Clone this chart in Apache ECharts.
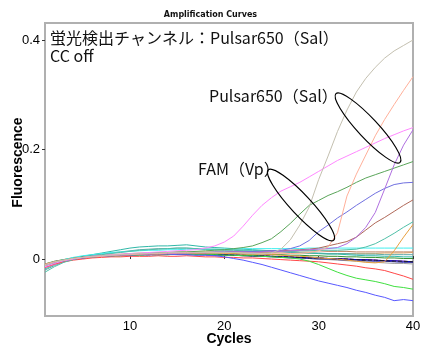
<!DOCTYPE html>
<html>
<head>
<meta charset="utf-8">
<script src="https://cdn.jsdelivr.net/npm/echarts@6/dist/echarts.min.js"></script>
<style>html,body{margin:0;padding:0;background:#fff}#c{width:421px;height:349px}</style>
</head>
<body>
<div id="c"></div>
<script>
const cycles = [1,2,3,4,5,6,7,8,9,10,11,12,13,14,15,16,17,18,19,20,21,22,23,24,25,26,27,28,29,30,31,32,33,34,35,36,37,38,39,40];
const xTicks = [10,20,30,40];
const yTicks = [0,0.2,0.4];

const salGray = [-0.012,-0.006,-0.002,0.001,0.003,0.005,0.006,0.007,0.008,0.009,0.010,0.010,0.011,0.012,0.012,0.011,0.012,0.012,0.011,0.012,0.012,0.011,0.010,0.009,0.011,0.018,0.035,0.062,0.095,0.145,0.188,0.233,0.272,0.305,0.330,0.350,0.367,0.380,0.390,0.400];
const salSalmon = [-0.010,-0.005,-0.002,0.001,0.003,0.004,0.005,0.007,0.008,0.008,0.009,0.010,0.010,0.011,0.011,0.012,0.011,0.012,0.012,0.011,0.012,0.011,0.011,0.010,0.010,0.011,0.010,0.011,0.012,0.015,0.022,0.048,0.115,0.155,0.190,0.225,0.255,0.282,0.308,0.333];
const famPink = [-0.014,-0.008,-0.003,0.000,0.003,0.005,0.006,0.008,0.009,0.010,0.011,0.012,0.013,0.014,0.015,0.016,0.017,0.020,0.024,0.031,0.042,0.060,0.080,0.098,0.112,0.124,0.132,0.140,0.150,0.160,0.170,0.180,0.188,0.196,0.204,0.212,0.220,0.227,0.234,0.240];
const famGreen = [-0.011,-0.006,-0.002,0.001,0.003,0.004,0.006,0.007,0.008,0.009,0.010,0.011,0.011,0.012,0.013,0.013,0.014,0.015,0.016,0.017,0.019,0.021,0.024,0.030,0.037,0.050,0.065,0.082,0.098,0.107,0.116,0.123,0.131,0.140,0.148,0.154,0.160,0.166,0.172,0.178];
const salPurple = [-0.012,-0.006,-0.003,0.000,0.002,0.004,0.005,0.006,0.007,0.008,0.009,0.009,0.010,0.010,0.011,0.011,0.012,0.011,0.012,0.012,0.013,0.013,0.012,0.013,0.014,0.014,0.015,0.016,0.017,0.018,0.019,0.021,0.028,0.040,0.058,0.085,0.128,0.172,0.208,0.236];
const famSlate = [-0.010,-0.005,-0.002,0.001,0.003,0.005,0.006,0.007,0.008,0.009,0.009,0.010,0.011,0.011,0.011,0.012,0.012,0.012,0.013,0.013,0.013,0.013,0.014,0.014,0.015,0.016,0.019,0.024,0.034,0.050,0.062,0.075,0.086,0.098,0.109,0.120,0.129,0.136,0.139,0.140];
const brown = [-0.011,-0.006,-0.003,0.000,0.002,0.004,0.005,0.006,0.007,0.008,0.009,0.009,0.010,0.010,0.011,0.011,0.011,0.012,0.012,0.012,0.013,0.013,0.013,0.014,0.015,0.015,0.016,0.017,0.018,0.020,0.024,0.028,0.032,0.040,0.053,0.066,0.076,0.087,0.098,0.108];
const tealRise = [-0.024,-0.014,-0.006,-0.001,0.003,0.006,0.008,0.010,0.012,0.014,0.016,0.017,0.018,0.019,0.020,0.020,0.019,0.018,0.018,0.017,0.017,0.016,0.016,0.015,0.015,0.014,0.014,0.015,0.015,0.016,0.016,0.016,0.017,0.018,0.022,0.028,0.037,0.047,0.058,0.068];
const tealHump = [-0.018,-0.010,-0.004,0.001,0.005,0.008,0.011,0.014,0.017,0.020,0.022,0.023,0.024,0.024,0.025,0.026,0.024,0.022,0.021,0.020,0.019,0.018,0.017,0.016,0.015,0.014,0.013,0.012,0.011,0.010,0.009,0.009,0.008,0.007,0.006,0.006,0.005,0.005,0.004,0.004];
const orange = [-0.009,-0.005,-0.002,0.001,0.003,0.004,0.005,0.006,0.007,0.008,0.008,0.009,0.009,0.010,0.010,0.010,0.011,0.010,0.011,0.010,0.010,0.009,0.009,0.008,0.008,0.007,0.006,0.005,0.004,0.002,0.001,0.000,-0.002,-0.004,-0.006,-0.007,-0.005,0.015,0.040,0.063];
const cyan = [-0.012,-0.006,-0.001,0.003,0.006,0.008,0.010,0.012,0.013,0.014,0.015,0.016,0.016,0.017,0.017,0.018,0.018,0.018,0.018,0.018,0.018,0.019,0.019,0.019,0.019,0.019,0.019,0.019,0.020,0.020,0.020,0.020,0.020,0.020,0.020,0.020,0.020,0.020,0.020,0.020];
const blue = [-0.013,-0.007,-0.003,0.000,0.002,0.004,0.005,0.006,0.007,0.007,0.008,0.008,0.008,0.009,0.008,0.008,0.007,0.007,0.006,0.004,0.001,-0.002,-0.006,-0.010,-0.015,-0.020,-0.025,-0.030,-0.035,-0.040,-0.044,-0.048,-0.052,-0.057,-0.061,-0.066,-0.070,-0.076,-0.074,-0.076];
const lime = [-0.011,-0.006,-0.003,0.000,0.002,0.004,0.005,0.006,0.006,0.007,0.007,0.008,0.008,0.008,0.009,0.009,0.008,0.008,0.008,0.007,0.007,0.006,0.006,0.005,0.004,0.003,0.002,0.000,-0.004,-0.010,-0.017,-0.024,-0.030,-0.035,-0.038,-0.041,-0.045,-0.050,-0.052,-0.055];
const red = [-0.015,-0.009,-0.005,-0.002,0.000,0.002,0.003,0.004,0.004,0.005,0.005,0.005,0.006,0.005,0.005,0.006,0.005,0.004,0.004,0.003,0.003,0.002,0.002,0.001,0.000,-0.001,-0.002,-0.003,-0.004,-0.005,-0.007,-0.009,-0.011,-0.013,-0.016,-0.018,-0.021,-0.026,-0.031,-0.037];
const blackDash = [-0.011,-0.006,-0.002,0.001,0.003,0.004,0.005,0.006,0.007,0.007,0.008,0.008,0.008,0.009,0.009,0.009,0.008,0.008,0.008,0.008,0.007,0.007,0.006,0.006,0.005,0.004,0.004,0.003,0.002,0.002,0.001,0.000,0.000,-0.001,-0.002,-0.002,-0.003,-0.004,-0.004,-0.005];
const navy = [-0.012,-0.007,-0.003,0.000,0.002,0.004,0.005,0.006,0.006,0.007,0.008,0.008,0.008,0.008,0.009,0.008,0.008,0.008,0.007,0.007,0.007,0.006,0.005,0.005,0.004,0.003,0.002,0.002,0.001,0.000,0.000,-0.001,-0.002,-0.002,-0.003,-0.004,-0.004,-0.005,-0.006,-0.006];
const grayBase = [-0.010,-0.005,-0.002,0.001,0.003,0.004,0.005,0.006,0.007,0.008,0.008,0.009,0.009,0.009,0.010,0.010,0.009,0.009,0.009,0.008,0.008,0.007,0.007,0.006,0.005,0.004,0.003,0.002,0.001,0.000,-0.001,-0.002,-0.003,-0.004,-0.005,-0.006,-0.007,-0.008,-0.008,-0.009];
const darkGreen = [-0.009,-0.004,-0.001,0.002,0.004,0.005,0.006,0.007,0.008,0.009,0.009,0.010,0.010,0.010,0.011,0.011,0.011,0.010,0.010,0.010,0.010,0.009,0.009,0.009,0.008,0.008,0.007,0.007,0.006,0.006,0.005,0.005,0.004,0.004,0.003,0.003,0.002,0.002,0.001,0.001];
const rose = [-0.016,-0.010,-0.005,-0.001,0.002,0.004,0.005,0.006,0.007,0.007,0.008,0.008,0.009,0.009,0.009,0.009,0.008,0.008,0.008,0.007,0.007,0.006,0.006,0.005,0.005,0.004,0.004,0.003,0.003,0.002,0.001,0.001,0.000,-0.001,-0.001,-0.002,-0.003,-0.003,-0.004,-0.005];
const tan = [-0.010,-0.005,-0.001,0.002,0.004,0.006,0.007,0.008,0.009,0.010,0.011,0.011,0.012,0.012,0.013,0.013,0.013,0.013,0.013,0.013,0.013,0.012,0.012,0.012,0.012,0.011,0.011,0.011,0.011,0.010,0.010,0.010,0.010,0.010,0.010,0.010,0.011,0.011,0.011,0.012];
const copper = [-0.012,-0.006,-0.002,0.001,0.003,0.005,0.006,0.007,0.008,0.009,0.010,0.010,0.011,0.011,0.012,0.012,0.012,0.012,0.012,0.012,0.013,0.013,0.013,0.013,0.014,0.014,0.014,0.015,0.015,0.015,0.014,0.014,0.014,0.013,0.013,0.013,0.013,0.013,0.013,0.013];
const slateTeal = [-0.020,-0.012,-0.005,0.000,0.004,0.007,0.009,0.011,0.013,0.015,0.017,0.018,0.019,0.019,0.020,0.020,0.019,0.018,0.017,0.016,0.016,0.015,0.014,0.014,0.013,0.013,0.012,0.012,0.011,0.011,0.010,0.010,0.010,0.009,0.009,0.009,0.008,0.008,0.008,0.008];
const darkBlue = [-0.013,-0.007,-0.003,0.000,0.002,0.004,0.005,0.006,0.007,0.007,0.008,0.008,0.009,0.009,0.009,0.009,0.009,0.008,0.008,0.008,0.007,0.007,0.006,0.006,0.005,0.004,0.004,0.003,0.003,0.002,0.001,0.001,0.000,-0.001,-0.001,-0.002,-0.003,-0.003,-0.004,-0.005];

const seriesDefs = [
  {name:'tan', data: tan, color:'#e0b070'},
  {name:'copper', data: copper, color:'#c08060'},
  {name:'slateTeal', data: slateTeal, color:'#60a8a8'},
  {name:'tealHump', data: tealHump, color:'#30b8a8'},
  {name:'darkGreen', data: darkGreen, color:'#309030'},
  {name:'rose', data: rose, color:'#ff70b0'},
  {name:'grayBase', data: grayBase, color:'#a0a0a0'},
  {name:'navy', data: navy, color:'#3030a0'},
  {name:'darkBlue', data: darkBlue, color:'#0000c8'},
  {name:'blackDash', data: blackDash, color:'#202020', dash:true},
  {name:'red', data: red, color:'#ff4848'},
  {name:'lime', data: lime, color:'#40e040'},
  {name:'blue', data: blue, color:'#5858ff'},
  {name:'cyan', data: cyan, color:'#40eeee'},
  {name:'orange', data: orange, color:'#e8a040'},
  {name:'tealRise', data: tealRise, color:'#50c0a8'},
  {name:'brown', data: brown, color:'#b06858'},
  {name:'famSlate', data: famSlate, color:'#7070e0'},
  {name:'famGreen', data: famGreen, color:'#5aa55a'},
  {name:'salPurple', data: salPurple, color:'#b070e0'},
  {name:'famPink', data: famPink, color:'#ff88ff'},
  {name:'salSalmon', data: salSalmon, color:'#ffb09a'},
  {name:'salGray', data: salGray, color:'#c4c0b0'}
];

const chart = echarts.init(document.getElementById('c'), null, {renderer:'canvas'});
const GRID = {left:45, right:8, top:23, bottom:33};
const cjk = '"Noto Sans CJK JP", sans-serif';

const option = {
  animation: false,
  backgroundColor: '#fff',
  title: {
    text: 'Amplification Curves', left: 'center', top: 6,
    textStyle: {fontFamily:'DejaVu Sans', fontSize: 8, fontWeight: 900, color:'#111'}
  },
  grid: {left: GRID.left, right: GRID.right, top: GRID.top, bottom: GRID.bottom, outerBoundsMode: 'none', containLabel: false, show: true, borderColor:'#b0b0b0', borderWidth: 2, backgroundColor:'#fff'},
  xAxis: {
    type:'value', min: 1, max: 40,
    name: 'Cycles', nameLocation:'middle', nameGap: 16, nameMoveOverlap: false,
    nameTextStyle: {fontFamily:'Liberation Sans', fontWeight:'bold', fontSize: 14, color:'#000', verticalAlign:'top'},
    axisLine: {show: false},
    axisTick: {show: true, inside: true, length: 3, customValues: xTicks, lineStyle:{color:'#333'}},
    axisLabel: {customValues: xTicks, fontFamily:'Liberation Sans', fontSize: 13, color:'#000', margin: 4},
    splitLine: {show: false}
  },
  yAxis: {
    type:'value', min: -0.104, max: 0.431,
    name: 'Fluorescence', nameLocation:'middle', nameGap: 20, nameMoveOverlap: false,
    nameTextStyle: {fontFamily:'Liberation Sans', fontWeight:'bold', fontSize: 14, color:'#000', padding:[0,0,0,14]},
    axisLine: {show: false},
    axisTick: {show: true, inside: false, length: 3, customValues: yTicks, lineStyle:{color:'#333'}},
    axisLabel: {customValues: yTicks, fontFamily:'Liberation Sans', fontSize: 13, color:'#000', margin: 5},
    splitLine: {show: false}
  },
  series: seriesDefs.map(s => ({
    name: s.name, type:'line', showSymbol:false, silent:true,
    data: cycles.map((c,i) => [c, s.data[i]]),
    lineStyle: {color: s.color, width: 1, type: s.dash ? 'dashed' : 'solid'},
    itemStyle: {color: s.color}
  })),
  graphic: [
    {type:'text', left: 50, top: 30, style:{text:'蛍光検出チャンネル：Pulsar650（Sal）', font:'16px ' + cjk, fill:'#111'}},
    {type:'text', left: 50, top: 48, style:{text:'CC off', font:'16px ' + cjk, fill:'#111'}},
    {type:'text', left: 209, top: 88, style:{text:'Pulsar650（Sal）', font:'16px ' + cjk, fill:'#111'}},
    {type:'text', left: 198, top: 161, style:{text:'FAM（Vp）', font:'16px ' + cjk, fill:'#111'}},
    {type:'ellipse', x: 368, y: 128, rotation: -0.82, shape:{cx:0, cy:0, rx:47, ry:10}, style:{fill:'none', stroke:'#000', lineWidth:1.2}, z: 100},
    {type:'ellipse', x: 301, y: 205, rotation: -0.82, shape:{cx:0, cy:0, rx:48, ry:10}, style:{fill:'none', stroke:'#000', lineWidth:1.2}, z: 100}
  ]
};
chart.setOption(option);
</script>
</body>
</html>
